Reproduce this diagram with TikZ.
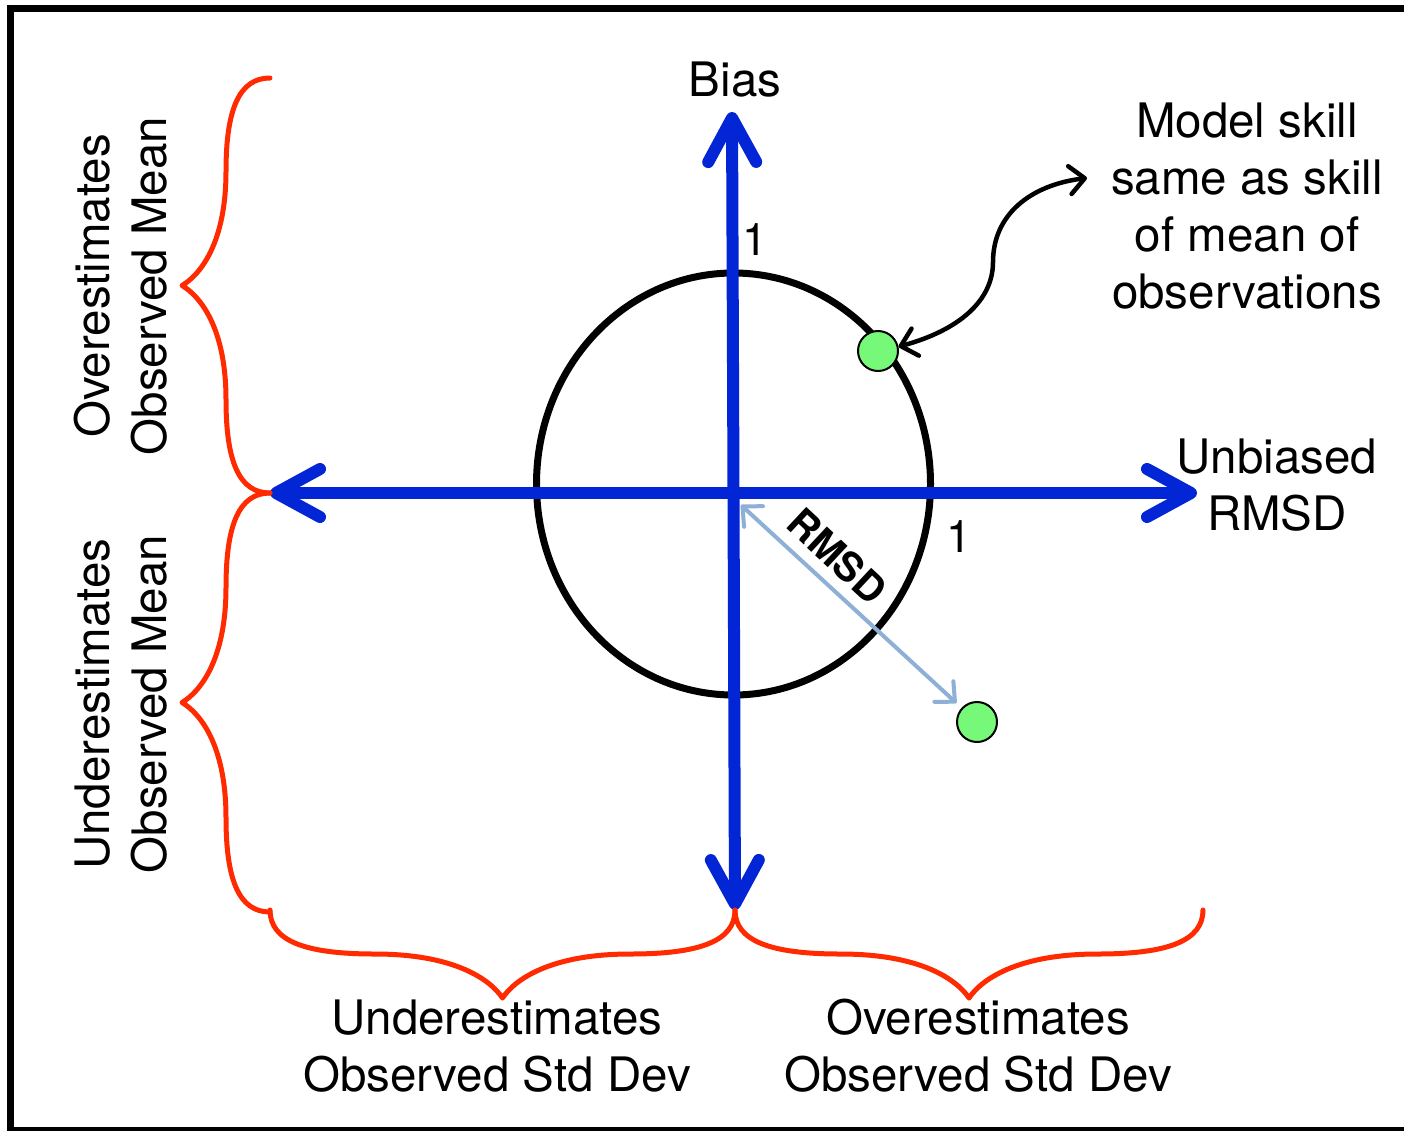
\documentclass[tikz,border=0pt]{standalone}
\usepackage{fontspec}
\setmainfont{TeX Gyre Heros}
\usetikzlibrary{arrows.meta}
\definecolor{axisblue}{RGB}{2,38,214}
\definecolor{bracered}{RGB}{255,42,0}
\definecolor{dotgreen}{RGB}{118,248,120}
\definecolor{rmsdblue}{RGB}{143,176,214}
\newcommand{\bracecurve}{(0,0) .. controls (0,0.35) and (0.15,0.5) .. (0.45,0.5) .. controls (0.8,0.5) and (0.95,0.8) .. (1,1) .. controls (1.05,0.8) and (1.2,0.5) .. (1.55,0.5) .. controls (1.85,0.5) and (2,0.35) .. (2,0)}
\begin{document}
\begin{tikzpicture}[x=1pt,y=-1pt,
  axis/.style={line width=12pt, draw=axisblue, -{Straight Barb[length=44pt,width=48pt,round]}},
  bracestyle/.style={line width=5pt, draw=bracered, line cap=round, line join=round},
  lbl/.style={font=\fontsize{47.5}{57}\selectfont, align=center, inner sep=0pt},
  numlbl/.style={font=\fontsize{45}{50}\selectfont, inner sep=0pt},
  dot/.style={circle, fill=dotgreen, draw=black, line width=2pt, minimum size=40pt, inner sep=0pt},
  rmsdarrow/.style={line width=4pt, draw=rmsdblue, {Straight Barb[length=15pt,width=28pt,round]}-{Straight Barb[length=15pt,width=28pt,round]}},
  curvearrow/.style={line width=4.5pt, draw=black, {Straight Barb[length=15pt,width=28pt,round]}-{Straight Barb[length=15pt,width=28pt,round]}},
]
\clip (0,0) rectangle (1404,1131);
\fill[white] (0,0) rectangle (1404,1131);
% frame
\draw[line width=7pt] (10,8.7) rectangle (1430,1130);

% circle
\draw[line width=7pt] (733.5,484) ellipse [x radius=197pt, y radius=211pt];

% axes
\coordinate (O) at (733.5,493);
\coordinate (Top) at (732,112);
\coordinate (Bot) at (735,910);
\coordinate (Lft) at (270,493);
\coordinate (Rgt) at (1197,493);
\draw[axis] (O) -- (Top);
\draw[axis] (O) -- (Bot);
\draw[axis] (O) -- (Lft);
\draw[axis] (O) -- (Rgt);

% dots
\node[dot] (D1) at (878,351) {};
\node[dot] (D2) at (977,722) {};

% RMSD arrow
\coordinate (R1) at (741,505);
\draw[rmsdarrow, shorten >=7pt] (R1) -- (D2);
\node[font=\bfseries\fontsize{40}{44}\selectfont, rotate=-43, inner sep=0pt] (RL) at (837,556) {RMSD};

% curved arrow
\coordinate (A1) at (1087,178);
\draw[curvearrow] (D1.12) .. controls (960,330) and (993,300) .. (993,262) .. controls (993,215) and (1030,185) .. (A1);

% labels
\node[lbl] (bias) at (735,80) {Bias};
\node[numlbl] (one1) at (755,240) {1};
\node[numlbl] (one2) at (959,537) {1};
\node[lbl] (ub) at (1277,485) {Unbiased\\RMSD};
\node[lbl] (ms) at (1247,206) {Model skill\\same as skill\\of mean of\\observations};
\node[lbl, rotate=90] (om) at (121,286) {Overestimates\\Observed Mean};
\node[lbl, rotate=90] (um) at (121,704) {Underestimates\\Observed Mean};
\node[lbl] (us) at (497,1046) {Underestimates\\Observed Std Dev};
\node[lbl] (os) at (978,1046) {Overestimates\\Observed Std Dev};

% braces
\begin{scope}[shift={(270,78)}, x={(0pt,-207.5pt)}, y={(-88pt,0pt)}]
  \draw[bracestyle] \bracecurve;
\end{scope}
\begin{scope}[shift={(270,493)}, x={(0pt,-209.5pt)}, y={(-88pt,0pt)}]
  \draw[bracestyle] \bracecurve;
\end{scope}
\begin{scope}[shift={(270,910)}, x={(232.5pt,0pt)}, y={(0pt,-88pt)}]
  \draw[bracestyle] \bracecurve;
\end{scope}
\begin{scope}[shift={(735,910)}, x={(234pt,0pt)}, y={(0pt,-88pt)}]
  \draw[bracestyle] \bracecurve;
\end{scope}
\end{tikzpicture}
\end{document}
